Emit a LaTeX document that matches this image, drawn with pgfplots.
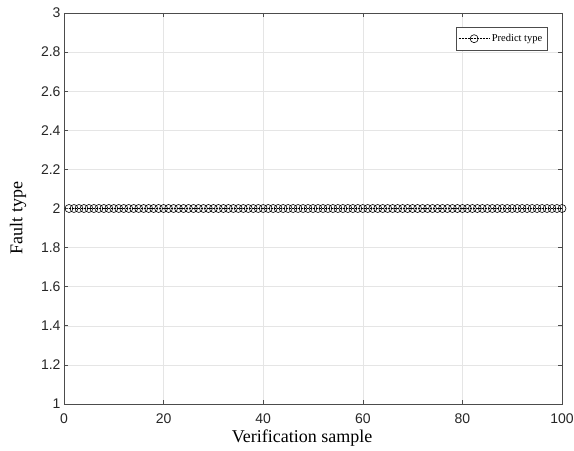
\documentclass[border=0pt]{standalone}
\usepackage{pgfplots}
\pgfplotsset{compat=1.18}
\usetikzlibrary{calc}
\usepackage{fontspec}
\setmainfont{Liberation Serif}
\newfontfamily\ticksfont{Liberation Sans}
\begin{document}
\begin{tikzpicture}[x=1bp,y=1bp]
\begin{axis}[
  scale only axis,
  width=498bp, height=391bp,
  xmin=0, xmax=100, ymin=1, ymax=3,
  xtick={0,20,...,100},
  ytick={1,1.2,...,3.01},
  yticklabel style={/pgf/number format/fixed,/pgf/number format/precision=1},
  xticklabel style={yshift=-6.5bp},
  /pgf/number format/assume math mode=true,
  ticklabel style={font=\fontsize{14bp}{16bp}\ticksfont, text=black!85},
  grid=major,
  major grid style={gray!20, line width=0.5bp},
  axis line style={black!70, line width=0.6bp},
  tick style={black!70, line width=0.6bp},
  major tick length=4bp,
  tick align=inside,
  xlabel={Verification sample},
  ylabel={Fault type},
  label style={font=\fontsize{18bp}{20bp}\selectfont},
  xlabel style={at={(axis description cs:0.478,-0.087)}, anchor=center},
  ylabel style={at={(axis description cs:-0.092,0.476)}, anchor=center},
  legend style={at={(0.970,0.964)}, anchor=north east, font=\fontsize{10.5bp}{12bp}\selectfont, draw=black!70, line width=0.5bp, inner xsep=2.5bp, inner ysep=5bp},
  legend cell align=left,
  legend image code/.code={\draw[mark repeat=2,mark phase=2] plot coordinates {(0bp,0bp)(15.5bp,0bp)(31bp,0bp)};},
]
\addplot[black, densely dotted, line width=0.5bp, mark=o, mark size=4bp, mark options={solid, line width=0.6bp}] coordinates {
(1,2)(2,2)(3,2)(4,2)(5,2)(6,2)(7,2)(8,2)(9,2)(10,2)
(11,2)(12,2)(13,2)(14,2)(15,2)(16,2)(17,2)(18,2)(19,2)(20,2)
(21,2)(22,2)(23,2)(24,2)(25,2)(26,2)(27,2)(28,2)(29,2)(30,2)
(31,2)(32,2)(33,2)(34,2)(35,2)(36,2)(37,2)(38,2)(39,2)(40,2)
(41,2)(42,2)(43,2)(44,2)(45,2)(46,2)(47,2)(48,2)(49,2)(50,2)
(51,2)(52,2)(53,2)(54,2)(55,2)(56,2)(57,2)(58,2)(59,2)(60,2)
(61,2)(62,2)(63,2)(64,2)(65,2)(66,2)(67,2)(68,2)(69,2)(70,2)
(71,2)(72,2)(73,2)(74,2)(75,2)(76,2)(77,2)(78,2)(79,2)(80,2)
(81,2)(82,2)(83,2)(84,2)(85,2)(86,2)(87,2)(88,2)(89,2)(90,2)
(91,2)(92,2)(93,2)(94,2)(95,2)(96,2)(97,2)(98,2)(99,2)(100,2)
};
\addlegendentry{Predict type}
\end{axis}
\pgfresetboundingbox
\path[use as bounding box] ($(current axis.south west)+(-64bp,-47bp)$) rectangle ($(current axis.north east)+(12bp,13bp)$);
\end{tikzpicture}
\end{document}
